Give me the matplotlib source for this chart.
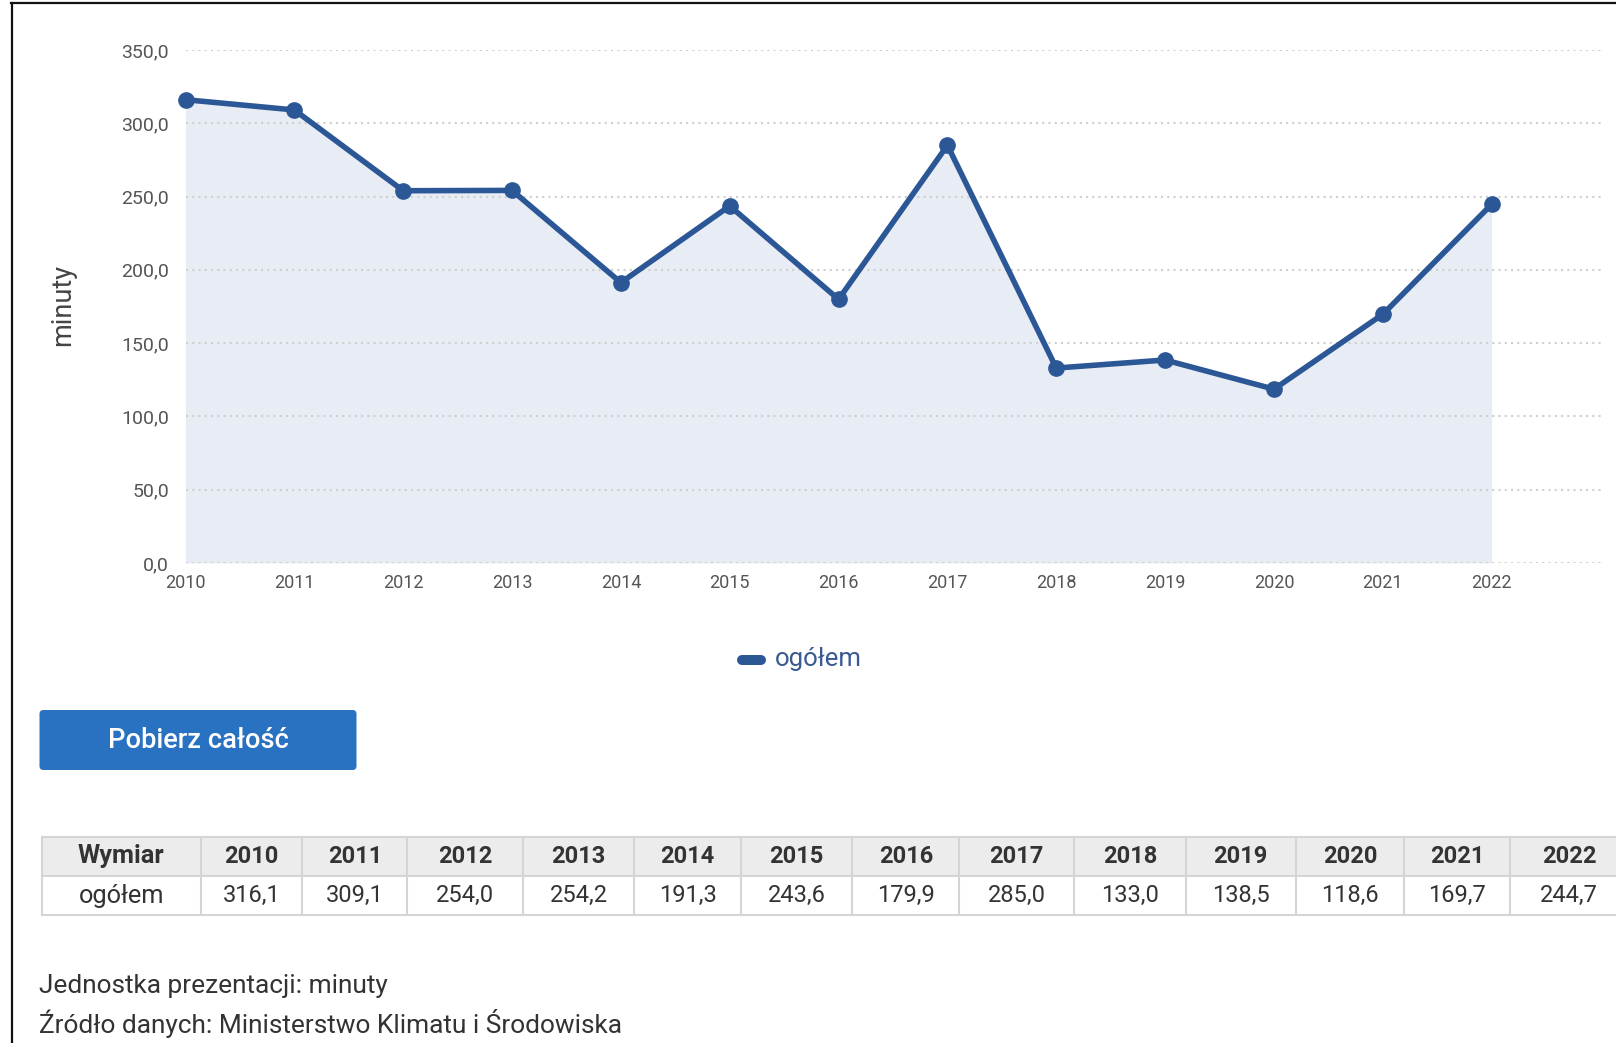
import matplotlib
matplotlib.use("Agg")
import matplotlib.pyplot as plt
from matplotlib.lines import Line2D
from matplotlib.patches import Rectangle, FancyBboxPatch
from matplotlib.ticker import FuncFormatter, MultipleLocator
from matplotlib.transforms import Affine2D

# dane
years = [2010, 2011, 2012, 2013, 2014, 2015, 2016, 2017, 2018, 2019, 2020, 2021, 2022]
values = [316.1, 309.1, 254.0, 254.2, 191.3, 243.6, 179.9, 285.0, 133.0, 138.5, 118.6, 169.7, 244.7]
series_name = "ogółem"
row_header = "Wymiar"
y_label = "minuty"
button_label = "Pobierz całość"
notes = ["Jednostka prezentacji: minuty",
         "Źródło danych: Ministerstwo Klimatu i Środowiska"]

LINE = "#2c5796"
FILL = "#e8ecf4"
TICK = "#555555"
TEXT = "#333333"

W, H = 1616, 1043
plt.rcParams["font.family"] = ["Roboto", "DejaVu Sans"]


def pl(v):
    return f"{v:.1f}".replace(".", ",")


fig = plt.figure(figsize=(W / 100, H / 100), dpi=100)
# piksele liczone od lewego górnego rogu
px = Affine2D().scale(1 / 100, -1 / 100).translate(0, H / 100) + fig.dpi_scale_trans

# wykres
ax = fig.add_axes([185.5 / W, 1 - 563 / H, 1415 / W, 513 / H])
ax.fill_between(years, values, 0, color=FILL, lw=0, zorder=1)
ax.plot(years, values, color=LINE, lw=4, marker="o", ms=11,
        solid_joinstyle="round", zorder=3, clip_on=False)
ax.set_xlim(2010, 2023)
ax.set_ylim(0, 350)
ax.set_xticks(years)
ax.yaxis.set_major_locator(MultipleLocator(50))
ax.yaxis.set_major_formatter(FuncFormatter(lambda v, p: pl(v)))
ax.grid(axis="y", color="#cfcfcf", lw=1.5, linestyle=(0, (1, 2)))
ax.set_axisbelow(False)
for s in ax.spines.values():
    s.set_visible(False)
ax.tick_params(axis="y", length=0, pad=12, labelsize=14, labelcolor=TICK)
ax.tick_params(axis="x", length=0, pad=8, labelsize=13, labelcolor=TICK)

fig.text(63, 305, y_label, transform=px, rotation=90, ha="center", va="center",
         fontsize=19.5, color="#444444")

# legenda
fig.add_artist(Line2D([742, 761], [660, 660], transform=px, lw=7.2,
                      color=LINE, solid_capstyle="round"))
fig.text(775, 659, series_name, transform=px, ha="left", va="center",
         fontsize=18.5, color="#3a5a92")

# przycisk
fig.add_artist(FancyBboxPatch((39.5, 710), 317, 60, transform=px,
                              boxstyle="round,pad=0,rounding_size=4",
                              fc="#2872c1", ec="none"))
fig.text(198, 740, button_label, transform=px, ha="center", va="center",
         fontsize=19.6, fontweight="medium", color="white")

# tabela
edges = [41.7, 200.7, 302.3, 407.3, 522.7, 634.3, 740.7, 852.3, 959.3,
         1074, 1185.7, 1295.7, 1404.3, 1510, 1628]
top, mid, bottom = 837, 876, 915
fig.add_artist(Rectangle((edges[0], top), edges[-1] - edges[0], mid - top,
                         transform=px, fc="#ececec", ec="none"))
for yy in (top, mid, bottom):
    fig.add_artist(Line2D([edges[0], edges[-1]], [yy, yy], transform=px,
                          color="#d5d5d5", lw=1.5))
for xx in edges:
    fig.add_artist(Line2D([xx, xx], [top, bottom], transform=px,
                          color="#d5d5d5", lw=1.5))

head = [row_header] + [str(y) for y in years]
body = [series_name] + [pl(v) for v in values]
for i in range(len(head)):
    cx = (edges[i] + edges[i + 1]) / 2
    size = 18.3 if i == 0 else 17
    fig.text(cx, (top + mid) / 2, head[i], transform=px, ha="center",
             va="center", fontsize=size, fontweight="bold", color=TEXT)
    fig.text(cx, (mid + bottom) / 2, body[i], transform=px, ha="center",
             va="center", fontsize=size, color=TEXT)

# stopka
fig.text(39, 986, notes[0], transform=px, ha="left", va="center",
         fontsize=18.9, color=TEXT)
fig.text(39, 1023, notes[1], transform=px, ha="left", va="center",
         fontsize=18.9, color=TEXT)

# ramka
fig.add_artist(Line2D([11, W], [3, 3], transform=px, color="#111111", lw=1.6))
fig.add_artist(Line2D([12, 12], [3, H], transform=px, color="#111111", lw=1.6))

fig.savefig("out.png", dpi=100)
